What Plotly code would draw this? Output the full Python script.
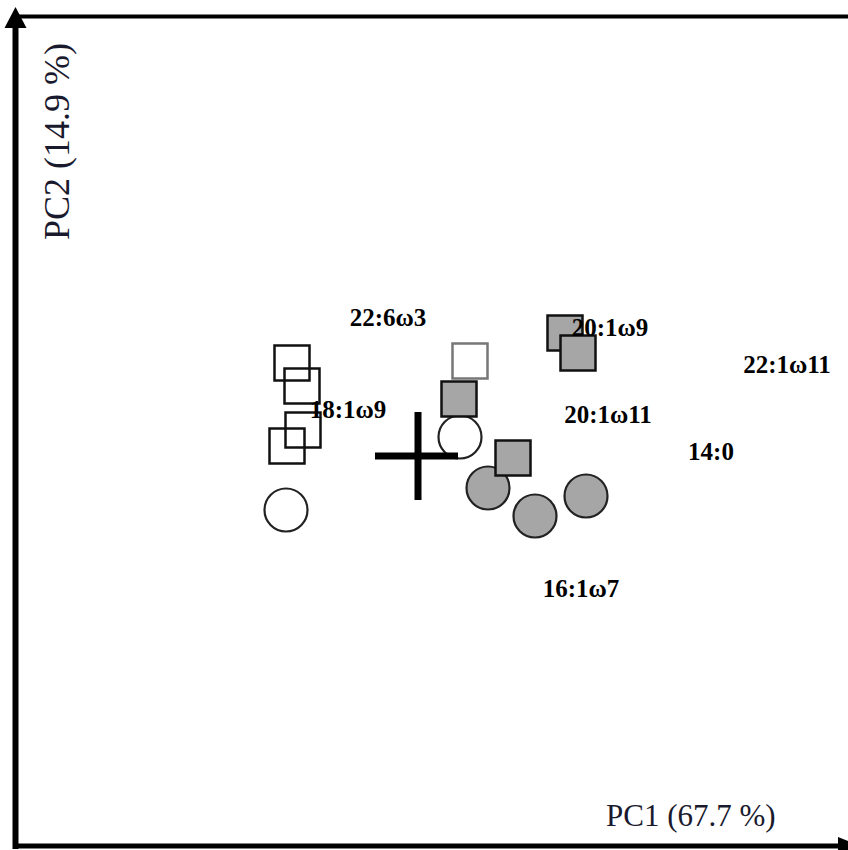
import plotly.graph_objects as go

# PCA scores per sample group (PC1, PC2)
open_sq_x = [-1.26, -1.16, -1.15, -1.31]
open_sq_y = [0.93, 0.70, 0.26, 0.10]
pale_sq_x = [0.52]
pale_sq_y = [0.95]
open_ci_x = [-1.32, 0.42]
open_ci_y = [-0.54, 0.19]
gray_ci_x = [0.70, 1.17, 1.68]
gray_ci_y = [-0.32, -0.60, -0.40]
gray_sq_x = [0.41, 0.95, 1.47, 1.60]
gray_sq_y = [0.57, -0.02, 1.23, 1.03]

# Fatty acid loadings
fa_names = ["22:6ω3", "18:1ω9", "20:1ω9", "20:1ω11", "22:1ω11", "14:0", "16:1ω7"]
fa_x = [-0.30, -0.70, 1.92, 1.90, 3.69, 2.93, 1.63]
fa_y = [1.36, 0.44, 1.26, 0.39, 0.89, 0.02, -1.35]

axis_x_title = "PC1 (67.7 %)"
axis_y_title = "PC2 (14.9 %)"

W, H = 848, 850
GRAY = "#a6a6a6"

fig = go.Figure()

def add_markers(xs, ys, symbol, size, fill, line_color, line_width):
    fig.add_trace(go.Scatter(
        x=xs, y=ys, mode="markers", hoverinfo="skip", showlegend=False,
        marker=dict(symbol=symbol, size=size, color=fill,
                    line=dict(color=line_color, width=line_width)),
    ))

add_markers(pale_sq_x, pale_sq_y, "square-open", 35, "#777777", "#777777", 2.5)
add_markers(open_sq_x, open_sq_y, "square-open", 35, "#111111", "#111111", 2.5)
add_markers(open_ci_x, open_ci_y, "circle", 43, "white", "#222222", 2.2)
add_markers(gray_ci_x, gray_ci_y, "circle", 43, GRAY, "#222222", 2.2)
add_markers(gray_sq_x, gray_sq_y, "square", 35, GRAY, "#111111", 2.5)

fig.add_trace(go.Scatter(
    x=fa_x, y=fa_y, mode="text", text=fa_names, hoverinfo="skip", showlegend=False,
    textposition="middle center",
    textfont=dict(family="Liberation Serif", size=25, color="black", weight="bold"),
))

shapes = []
# centre cross
shapes.append(dict(type="line", xref="x", yref="y", x0=-0.43, x1=0.40, y0=0, y1=0,
                   line=dict(color="black", width=7)))
shapes.append(dict(type="line", xref="x", yref="y", x0=0, x1=0, y0=-0.44, y1=0.44,
                   line=dict(color="black", width=7)))

def px(x):
    return x / W

def py(y):
    return 1 - y / H

# frame: left axis, bottom axis, top edge
shapes.append(dict(type="line", xref="paper", yref="paper",
                   x0=px(15.5), x1=px(15.5), y0=py(849), y1=py(22),
                   line=dict(color="black", width=6)))
shapes.append(dict(type="line", xref="paper", yref="paper",
                   x0=px(13), x1=px(845), y0=py(846), y1=py(846),
                   line=dict(color="black", width=5)))
shapes.append(dict(type="line", xref="paper", yref="paper",
                   x0=px(15.5), x1=px(860), y0=py(16.5), y1=py(16.5),
                   line=dict(color="black", width=4)))
# arrow heads
shapes.append(dict(type="path", xref="paper", yref="paper",
                   path=f"M {px(15.5)},{py(7)} L {px(4.5)},{py(28)} L {px(26.5)},{py(28)} Z",
                   fillcolor="black", line=dict(width=0)))
shapes.append(dict(type="path", xref="paper", yref="paper",
                   path=f"M {px(860)},{py(846)} L {px(838)},{py(837)} L {px(838)},{py(855)} Z",
                   fillcolor="black", line=dict(width=0)))

annotations = [
    dict(text=axis_x_title, xref="paper", yref="paper", x=px(691), y=py(815),
         showarrow=False, xanchor="center", yanchor="middle",
         font=dict(family="Liberation Serif", size=31, color="#1a1a2e")),
    dict(text=axis_y_title, xref="paper", yref="paper", x=px(57), y=py(142),
         showarrow=False, xanchor="center", yanchor="middle", textangle=-90,
         font=dict(family="Liberation Serif", size=36, color="#1a1a2e")),
]

fig.update_layout(
    width=W, height=H,
    margin=dict(l=0, r=0, t=0, b=0),
    paper_bgcolor="white", plot_bgcolor="white",
    xaxis=dict(range=[-4.18, 4.30], visible=False, fixedrange=True),
    yaxis=dict(range=[-3.94, 4.56], visible=False, fixedrange=True),
    shapes=shapes, annotations=annotations,
)

fig.write_html("out.html")
